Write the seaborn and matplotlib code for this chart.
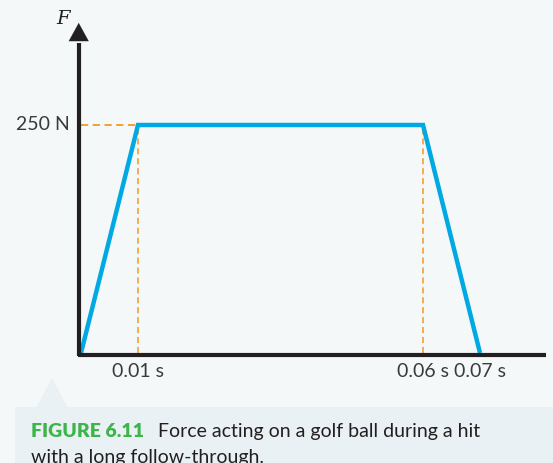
import matplotlib
matplotlib.use("Agg")
import matplotlib.pyplot as plt
import seaborn as sns
import pandas as pd
from matplotlib.patches import Rectangle, Polygon

# Data
time_s = [0.0, 0.01, 0.06, 0.07]
force_N = [0, 250, 250, 0]
x_tick_values = [0.01, 0.06, 0.07]
x_tick_labels = ["0.01 s", "0.06 s", "0.07 s"]
y_tick_value = 250
y_tick_label = "250 N"
caption_tag = "FIGURE 6.11"
caption_line1 = "Force acting on a golf ball during a hit"
caption_line2 = "with a long follow-through."

W, H = 553, 463
fig = plt.figure(figsize=(W / 100, H / 100), dpi=100)
fig.patch.set_facecolor("#f4f8f9")
ax = fig.add_axes([0, 0, 1, 1])
ax.set_facecolor("#f4f8f9")
for s in ax.spines.values():
    s.set_visible(False)
ax.set_xticks([])
ax.set_yticks([])

# pixel mapping: x_px = 81 + t*5700 ; y_px(top) = 353 - 0.912*F
ax.set_xlim(-81 / 5700, (W - 81) / 5700)
ax.set_ylim(-(H - 353) / 0.912, 353 / 0.912)

font = "Lato"
txt_color = "#3a3a3a"
orange = "#f39a1e"
blue = "#00a8e4"

def fx(px):
    return px / W

def fy(py):
    return 1 - py / H

box_color = "#eaf1f4"
fig.patches.append(Rectangle((fx(15), fy(463)), fx(553) - fx(15), fy(407) - fy(463),
                             transform=fig.transFigure, facecolor=box_color, edgecolor="none", zorder=0))
fig.patches.append(Polygon([(fx(36), fy(408)), (fx(68), fy(408)), (fx(52), fy(378))],
                           closed=True, transform=fig.transFigure, facecolor=box_color,
                           edgecolor="none", zorder=0))

# guide dashes
t_peak_start = time_s[1]
t_peak_end = time_s[2]
ax.plot([0, t_peak_start], [y_tick_value, y_tick_value], color=orange, lw=1.3,
        dashes=(4, 2.5), zorder=2)
ax.plot([t_peak_start, t_peak_start], [0, y_tick_value], color=orange, lw=1.1,
        dashes=(4, 2.5), zorder=2)
ax.plot([t_peak_end, t_peak_end], [0, y_tick_value], color=orange, lw=1.1,
        dashes=(4, 2.5), zorder=2)

# main line
df = pd.DataFrame({"t": time_s, "F": force_N})
sns.lineplot(data=df, x="t", y="F", ax=ax, color=blue, lw=3.2, zorder=3,
             solid_joinstyle="miter", solid_capstyle="butt")
ax.set_xlabel("")
ax.set_ylabel("")

# axes arrows
axis_color = "#231f20"
ax.plot([-0.0004, -0.0004], [-3.5, 340], color=axis_color, lw=3.0, zorder=4, solid_capstyle="butt")
ax.plot([-0.0006, 0.0815], [-2, -2], color=axis_color, lw=3.0, zorder=4, solid_capstyle="butt")
ax.annotate("", xy=(-0.0004, 365), xytext=(-0.0004, 340),
            arrowprops=dict(arrowstyle="-|>,head_length=1.0,head_width=0.55", mutation_scale=13,
                            color=axis_color, lw=0.1), zorder=5)
ax.annotate("", xy=(0.0845, -2), xytext=(0.080, -2),
            arrowprops=dict(arrowstyle="-|>,head_length=1.0,head_width=0.55", mutation_scale=13,
                            color=axis_color, lw=0.1), zorder=5)

# labels
ax.text(-0.0019, 366, "F", family="DejaVu Serif", style="italic", fontsize=14,
        color=axis_color, ha="right", va="center")
ax.text(-0.0019, y_tick_value, y_tick_label, family=font, fontsize=14, color=txt_color,
        ha="right", va="center")
for v, lab in zip(x_tick_values, x_tick_labels):
    ax.text(v, -20, lab, family=font, fontsize=14, color=txt_color, ha="center", va="center")

# caption
fig.text(fx(31), fy(437), caption_tag, family=font, fontweight="heavy", fontsize=14,
         color="#3db54a", ha="left", va="baseline")
fig.text(fx(158), fy(437), caption_line1, family=font, fontsize=14, color="#231f20",
         ha="left", va="baseline")
fig.text(fx(31), fy(463), caption_line2, family=font, fontsize=14, color="#231f20",
         ha="left", va="baseline")

fig.savefig("out.png", dpi=100, facecolor=fig.get_facecolor())
